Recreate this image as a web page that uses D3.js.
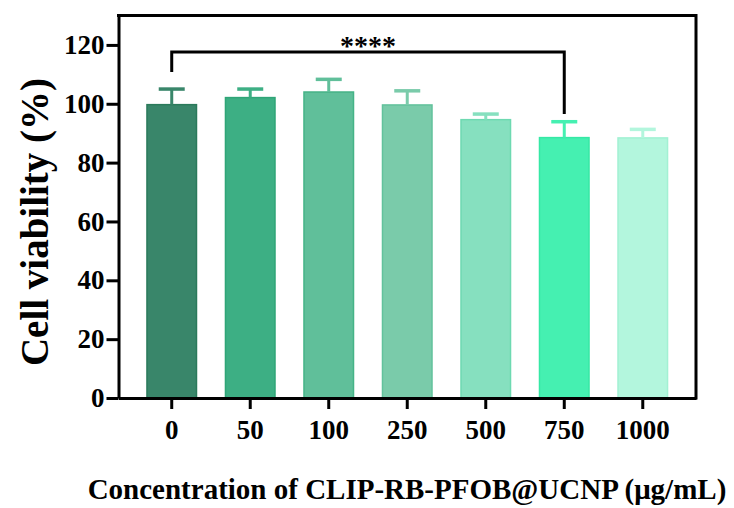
<!DOCTYPE html>
<html>
<head>
<meta charset="utf-8">
<script src="https://cdn.jsdelivr.net/npm/d3@7"></script>
</head>
<body style="margin:0; background:#fff">
<div id="container"></div>
<script>
// data
const concentrations = ["0", "50", "100", "250", "500", "750", "1000"];
const viability = [99.7, 102.1, 104.0, 99.6, 94.6, 88.5, 88.4];
const errors = [5.3, 2.9, 4.3, 4.8, 1.9, 5.4, 2.9];
const yTicks = [0, 20, 40, 60, 80, 100, 120];
const fills = ["#39866a", "#3daf84", "#60bf9a", "#7acbaa", "#86e0bf", "#45f0b1", "#b3f6dd"];
const strokes = ["#2b7a5b", "#2fa577", "#45b387", "#62c29c", "#6ed9b1", "#36e8a5", "#a2f1d3"];
// significance bracket: 0 vs 750
const sigPair = ["0", "750"];
const sigLevel = 117.6, sigLeftEnd = 110.8, sigRightEnd = 96.5;

const W = 734, H = 508;
const plot = {left: 118.5, right: 696, top: 15.5, bottom: 398};
const FONT = "'Liberation Serif', 'Times New Roman', serif";

const svg = d3.select("#container")
  .append("svg")
    .attr("width", W)
    .attr("height", H);

const x = d3.scaleBand()
  .domain(concentrations)
  .range([plot.left, plot.right])
  .paddingInner(0.35)
  .paddingOuter(0.353);

const y = d3.scaleLinear()
  .domain([0, 130])
  .range([plot.bottom, plot.top]);

const data = concentrations.map((c, i) => ({c: c, v: viability[i], e: errors[i], fill: fills[i], stroke: strokes[i]}));

// bars
svg.selectAll(".bar")
  .data(data)
  .enter()
  .append("rect")
    .attr("class", "bar")
    .attr("x", d => x(d.c) + 0.75)
    .attr("y", d => y(d.v))
    .attr("width", x.bandwidth() - 1.5)
    .attr("height", d => plot.bottom - y(d.v))
    .attr("fill", d => d.fill)
    .attr("stroke", d => d.stroke)
    .attr("stroke-width", 1.5);

// error bars (upper only)
const err = svg.selectAll(".err")
  .data(data)
  .enter()
  .append("g")
    .attr("class", "err");

err.append("line")
  .attr("x1", d => x(d.c) + x.bandwidth() / 2)
  .attr("x2", d => x(d.c) + x.bandwidth() / 2)
  .attr("y1", d => y(d.v))
  .attr("y2", d => y(d.v + d.e))
  .attr("stroke", d => d.fill)
  .attr("stroke-width", 3);

err.append("line")
  .attr("x1", d => x(d.c) + x.bandwidth() / 2 - 13)
  .attr("x2", d => x(d.c) + x.bandwidth() / 2 + 13)
  .attr("y1", d => y(d.v + d.e))
  .attr("y2", d => y(d.v + d.e))
  .attr("stroke", d => d.fill)
  .attr("stroke-width", 3.5);

// axes
const yAxis = svg.append("g")
  .attr("transform", `translate(${plot.left},0)`)
  .call(d3.axisLeft(y).tickValues(yTicks).tickSize(12).tickSizeOuter(0).tickPadding(2));

const xAxis = svg.append("g")
  .attr("transform", `translate(0,${plot.bottom})`)
  .call(d3.axisBottom(x).tickSize(11).tickSizeOuter(0).tickPadding(11));

[yAxis, xAxis].forEach(a => {
  a.selectAll("path, line").attr("stroke", "#000").attr("stroke-width", 3);
  a.selectAll("text")
    .attr("fill", "#000")
    .style("font-family", FONT)
    .style("font-weight", "bold")
    .style("font-size", "27px");
});

// top and right frame
svg.append("path")
  .attr("d", `M${plot.left},${plot.top}H${plot.right}V${plot.bottom}`)
  .attr("fill", "none")
  .attr("stroke", "#000")
  .attr("stroke-width", 3)
  .attr("stroke-linecap", "square");

// significance bracket
const sx1 = x(sigPair[0]) + x.bandwidth() / 2;
const sx2 = x(sigPair[1]) + x.bandwidth() / 2;
svg.append("path")
  .attr("d", `M${sx1},${y(sigLeftEnd)}V${y(sigLevel)}H${sx2}V${y(sigRightEnd)}`)
  .attr("fill", "none")
  .attr("stroke", "#000")
  .attr("stroke-width", 3);

svg.append("text")
  .attr("x", (sx1 + sx2) / 2)
  .attr("y", y(sigLevel) + 3)
  .attr("text-anchor", "middle")
  .style("font-family", FONT)
  .style("font-weight", "bold")
  .style("font-size", "28px")
  .text("****");

// axis titles
svg.append("text")
  .attr("transform", "translate(48,222) rotate(-90)")
  .attr("text-anchor", "middle")
  .style("font-family", FONT)
  .style("font-weight", "bold")
  .style("font-size", "39px")
  .text("Cell viability (%)");

svg.append("text")
  .attr("x", 407)
  .attr("y", 499)
  .attr("text-anchor", "middle")
  .style("font-family", FONT)
  .style("font-weight", "bold")
  .style("font-size", "29px")
  .text("Concentration of CLIP-RB-PFOB@UCNP (\u03bcg/mL)");
</script>
</body>
</html>
